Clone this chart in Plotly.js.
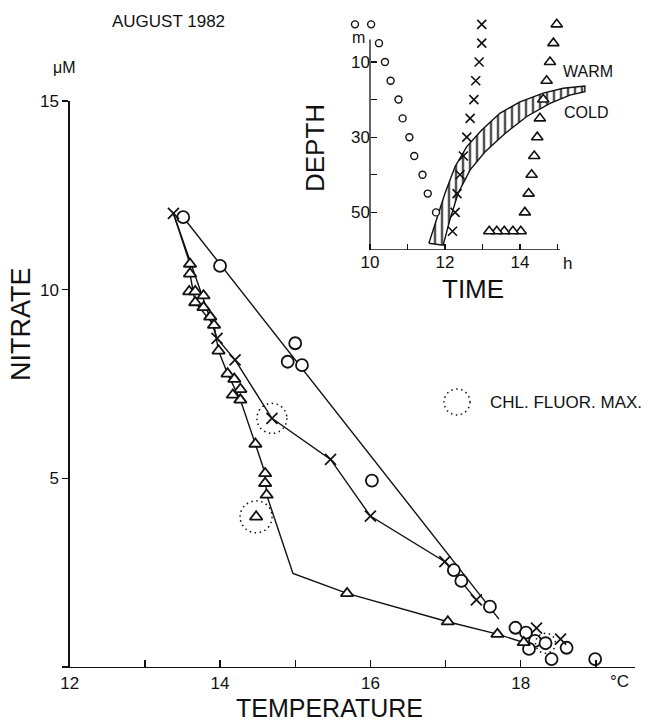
<!DOCTYPE html>
<html>
<head>
<meta charset="utf-8">
<script src="https://cdn.plot.ly/plotly-3.0.1.min.js"></script>
<style>html,body{margin:0;padding:0;background:#fff}#chart{width:652px;height:722px}</style>
</head>
<body>
<div id="chart"></div>
<script>
// ---------- main panel: nitrate vs temperature ----------
const circleTemp    = [13.51, 14.00, 15.00, 14.90, 15.09, 16.02, 17.11, 17.21, 17.59, 17.93, 18.07, 18.19, 18.11, 18.33, 18.61, 18.41, 18.99];
const circleNitrate = [11.92, 10.63, 8.58, 8.09, 8.00, 4.94, 2.57, 2.28, 1.60, 1.04, 0.91, 0.69, 0.48, 0.63, 0.51, 0.21, 0.21];

const crossTemp    = [13.38, 13.96, 14.20, 14.69, 15.47, 16.00, 16.99, 17.41, 18.21, 18.53];
const crossNitrate = [12.02, 8.71, 8.14, 6.59, 5.50, 4.00, 2.79, 1.78, 1.03, 0.74];

const triTemp    = [13.60, 13.60, 13.59, 13.67, 13.78, 13.67, 13.78, 13.87, 13.92, 13.98, 14.10, 14.19, 14.27, 14.17, 14.27, 14.47, 14.60, 14.60, 14.62, 14.48, 15.69, 17.03, 17.69, 18.04];
const triNitrate = [10.68, 10.42, 9.95, 9.95, 9.84, 9.66, 9.53, 9.28, 9.06, 8.38, 7.77, 7.63, 7.36, 7.21, 7.08, 5.91, 5.13, 4.87, 4.56, 3.98, 1.95, 1.20, 0.87, 0.65];

// connecting lines as drawn in the figure
const circleLineTemp    = [13.51, 17.71];
const circleLineNitrate = [11.92, 1.27];
const crossLineCount = 8;   // first 8 crosses joined in order
const triLineTemp    = [13.38, 13.60, 13.60, 13.67, 13.92, 13.98, 14.10, 14.27, 14.47, 14.60, 14.62, 14.97, 15.69, 17.03, 17.69, 18.04];
const triLineNitrate = [12.02, 10.68, 10.42, 9.66, 9.06, 8.38, 7.77, 7.08, 5.91, 5.13, 4.56, 2.48, 1.95, 1.20, 0.87, 0.65];

// chlorophyll fluorescence maxima (series, index)
const chlMaxSeries = ['cross', 'tri', 'circle'];
const chlMaxIndex  = [3, 19, 13];

const mainXTicks = [12, 13, 14, 15, 16, 17, 18, 19];
const mainXTickText = ['12', '', '14', '', '16', '', '18', ''];
const mainYTicks = [0, 5, 10, 15];
const mainYTickText = ['', '5', '10', '15'];

// ---------- inset: depth vs time ----------
const insetCircleTime  = [9.60, 10.03, 10.24, 10.40, 10.55, 10.76, 10.87, 11.05, 11.18, 11.40, 11.54, 11.76];
const insetCircleDepth = [0, 0, 5, 10, 15, 20, 25, 30, 35, 40, 45, 50];
const insetCrossTime  = [12.98, 12.98, 12.91, 12.82, 12.77, 12.67, 12.58, 12.49, 12.40, 12.32, 12.27, 12.20];
const insetCrossDepth = [0, 5, 10, 15, 20, 25, 30, 35, 40, 45, 50, 55];
const insetTriTime  = [14.98, 14.89, 14.80, 14.71, 14.62, 14.53, 14.46, 14.38, 14.31, 14.23, 14.13, 14.02, 13.81, 13.58, 13.38, 13.18];
const insetTriDepth = [0, 5, 10, 15, 20, 25, 30, 35, 40, 45, 50, 55, 55, 55, 55, 55];

const bandUpperTime  = [11.57, 11.78, 12.00, 12.27, 12.58, 12.98, 13.47, 14.00, 14.62, 15.15, 15.73];
const bandUpperDepth = [58.2, 52.0, 44.9, 37.8, 32.5, 28.1, 23.6, 20.6, 18.3, 17.0, 16.4];
const bandLowerTime  = [11.95, 12.13, 12.35, 12.67, 13.07, 13.60, 14.18, 14.80, 15.33, 15.73];
const bandLowerDepth = [58.7, 52.0, 44.9, 38.7, 33.9, 29.0, 24.5, 21.0, 18.8, 17.9];

const insetXTicks = [10, 11, 12, 13, 14, 15];
const insetXTickText = ['10', '', '12', '', '14', ''];
const insetYTicks = [10, 20, 30, 40, 50];
const insetYTickText = ['10', '', '30', '', '50'];

// ---------- build ----------
const FONT = 'Liberation Sans, Arial, sans-serif';
const INK = '#111';
const W = 652, H = 722;
const px = x => x / W;
const py = y => 1 - y / H;

const traces = [];
// lines first
traces.push({x: circleLineTemp, y: circleLineNitrate, mode: 'lines', line: {color: INK, width: 1.4}, xaxis: 'x', yaxis: 'y', hoverinfo: 'skip'});
traces.push({x: crossTemp.slice(0, crossLineCount), y: crossNitrate.slice(0, crossLineCount), mode: 'lines', line: {color: INK, width: 1.4}, xaxis: 'x', yaxis: 'y', hoverinfo: 'skip'});
traces.push({x: triLineTemp, y: triLineNitrate, mode: 'lines', line: {color: INK, width: 1.4}, xaxis: 'x', yaxis: 'y', hoverinfo: 'skip'});
// markers
traces.push({x: circleTemp, y: circleNitrate, mode: 'markers', cliponaxis: false,
  marker: {symbol: 'circle', size: 12, color: 'white', line: {color: INK, width: 1.8}}, xaxis: 'x', yaxis: 'y'});
traces.push({x: triTemp, y: triNitrate, mode: 'markers', cliponaxis: false,
  marker: {symbol: 'triangle-up', size: 11, color: 'white', line: {color: INK, width: 1.8}}, xaxis: 'x', yaxis: 'y'});
traces.push({x: crossTemp, y: crossNitrate, mode: 'markers', cliponaxis: false,
  marker: {symbol: 'x-thin', size: 11, color: INK, line: {color: INK, width: 1.7}}, xaxis: 'x', yaxis: 'y'});

// inset band
const bandTime = bandUpperTime.concat(bandLowerTime.slice().reverse());
const bandDepth = bandUpperDepth.concat(bandLowerDepth.slice().reverse());
bandTime.push(bandUpperTime[0]); bandDepth.push(bandUpperDepth[0]);
traces.push({x: bandTime, y: bandDepth, mode: 'lines', fill: 'toself', fillcolor: 'white',
  fillpattern: {shape: '|', size: 7, solidity: 0.24, fgcolor: '#000', bgcolor: 'white'},
  line: {color: INK, width: 1.4}, xaxis: 'x2', yaxis: 'y2', hoverinfo: 'skip'});
traces.push({x: insetCircleTime, y: insetCircleDepth, mode: 'markers', cliponaxis: false,
  marker: {symbol: 'circle', size: 7, color: 'white', line: {color: INK, width: 1.4}}, xaxis: 'x2', yaxis: 'y2'});
traces.push({x: insetCrossTime, y: insetCrossDepth, mode: 'markers', cliponaxis: false,
  marker: {symbol: 'x-thin', size: 9, color: INK, line: {color: INK, width: 1.6}}, xaxis: 'x2', yaxis: 'y2'});
traces.push({x: insetTriTime, y: insetTriDepth, mode: 'markers', cliponaxis: false,
  marker: {symbol: 'triangle-up', size: 10, color: 'white', line: {color: INK, width: 1.6}}, xaxis: 'x2', yaxis: 'y2'});

// shapes
const shapes = [];
const seriesLookup = {cross: [crossTemp, crossNitrate, 15], tri: [triTemp, triNitrate, 16], circle: [circleTemp, circleNitrate, 10]};
chlMaxSeries.forEach((s, i) => {
  const [tx, ny, r] = seriesLookup[s];
  const k = chlMaxIndex[i];
  shapes.push({type: 'circle', xref: 'x', yref: 'y', xsizemode: 'pixel', ysizemode: 'pixel',
    xanchor: tx[k], yanchor: ny[k], x0: -r, x1: r, y0: -r, y1: r,
    line: {color: INK, width: 1.5, dash: '1.5px,3.5px'}});
});
// legend dotted circle
shapes.push({type: 'circle', xref: 'paper', yref: 'paper', x0: px(444), x1: px(470), y0: py(415), y1: py(389),
  line: {color: INK, width: 1.5, dash: '1.5px,3.5px'}});
// inset axis lines
shapes.push({type: 'line', xref: 'x2', yref: 'y2', x0: 10, x1: 10, y0: 4, y1: 60, line: {color: INK, width: 1.3}});
shapes.push({type: 'line', xref: 'x2', yref: 'y2', x0: 10, x1: 15.07, y0: 60, y1: 60, line: {color: INK, width: 1.3}});

const ann = (text, x, y, size, extra) => Object.assign({text, x: px(x), y: py(y), xref: 'paper', yref: 'paper',
  xanchor: 'center', yanchor: 'middle', showarrow: false, font: {family: FONT, size, color: INK}}, extra || {});

const annotations = [
  ann('AUGUST 1982', 168, 21, 17),
  ann('\u03bcM', 64, 68, 16),
  ann('NITRATE', 21, 324, 27, {textangle: -90}),
  ann('TEMPERATURE', 329, 708, 25),
  ann('\u00b0C', 619, 681, 17),
  ann('DEPTH', 315, 148, 26, {textangle: -90}),
  ann('TIME', 473, 289, 26),
  ann('h', 567, 263, 17),
  ann('m', 358, 38, 16),
  ann('WARM', 588, 71, 16),
  ann('COLD', 586, 113, 16),
  ann('CHL. FLUOR. MAX.', 566, 402, 17)
];

const tickFont = {family: FONT, size: 17, color: INK};
// inset time axis: 37.5 px per hour, t=10 at x=370 px
const insetX0 = 9.4, insetX1 = 15.8;
const layout = {
  width: W, height: H, margin: {l: 0, r: 0, t: 0, b: 0},
  paper_bgcolor: 'white', plot_bgcolor: 'rgba(0,0,0,0)', showlegend: false,
  xaxis: {domain: [px(69.7), px(635)], range: [12, 19.52], anchor: 'y', showline: true, linecolor: INK, linewidth: 1.3,
    showgrid: false, zeroline: false, ticks: 'inside', ticklen: 7, tickwidth: 1.3, tickcolor: INK,
    tickmode: 'array', tickvals: mainXTicks, ticktext: mainXTickText, tickfont: tickFont, automargin: false, fixedrange: true},
  yaxis: {domain: [py(667), py(101)], range: [0, 15], anchor: 'x', showline: true, linecolor: INK, linewidth: 1.3,
    showgrid: false, zeroline: false, ticks: 'outside', ticklen: 6, tickwidth: 1.3, tickcolor: INK,
    tickmode: 'array', tickvals: mainYTicks, ticktext: mainYTickText, tickfont: tickFont, automargin: false, fixedrange: true},
  xaxis2: {domain: [px(370 + (insetX0 - 10) * 37.5), px(370 + (insetX1 - 10) * 37.5)], range: [insetX0, insetX1], anchor: 'y2', showline: false,
    showgrid: false, zeroline: false, ticks: 'inside', ticklen: 6, tickwidth: 1.3, tickcolor: INK,
    tickmode: 'array', tickvals: insetXTicks, ticktext: insetXTickText, tickfont: tickFont, automargin: false, fixedrange: true},
  yaxis2: {domain: [py(250), py(20.6)], range: [60, -1], anchor: 'free', position: px(370), showline: false,
    showgrid: false, zeroline: false, ticks: 'inside', ticklen: 6, tickwidth: 1.3, tickcolor: INK,
    tickmode: 'array', tickvals: insetYTicks, ticktext: insetYTickText, tickfont: tickFont, automargin: false, fixedrange: true},
  shapes, annotations
};

Plotly.newPlot('chart', traces, layout, {staticPlot: true});
</script>
</body>
</html>
